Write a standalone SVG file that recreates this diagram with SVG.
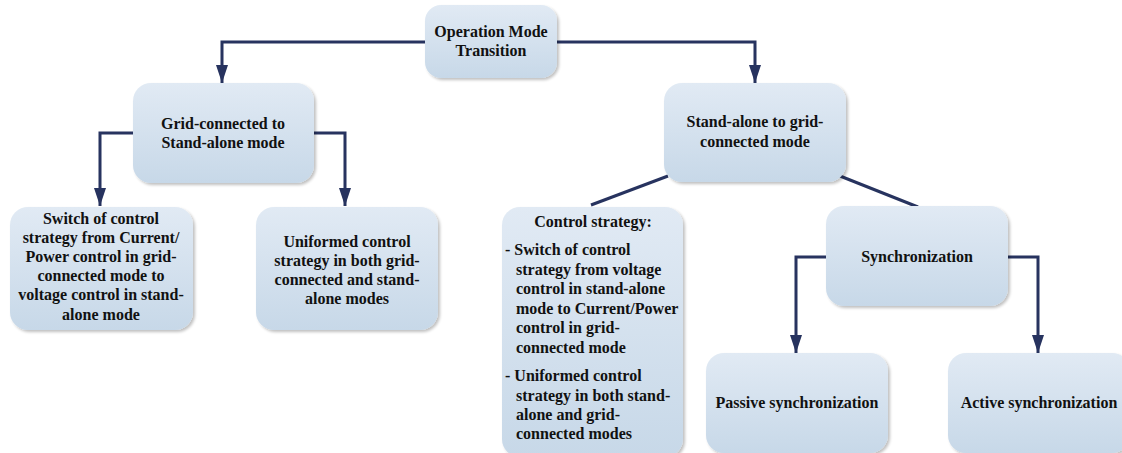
<svg xmlns="http://www.w3.org/2000/svg" width="1122" height="453" viewBox="0 0 1122 453">
  <defs>
    <linearGradient id="boxFill" x1="0" y1="0" x2="0" y2="1">
      <stop offset="0" stop-color="#e1eaf4"/>
      <stop offset="1" stop-color="#c7d8e8"/>
    </linearGradient>
    <filter id="shadow" x="-10%" y="-10%" width="125%" height="130%">
      <feGaussianBlur in="SourceAlpha" stdDeviation="1.5"/>
      <feOffset dx="2" dy="2" result="b"/>
      <feComponentTransfer><feFuncA type="linear" slope="0.25"/></feComponentTransfer>
      <feMerge><feMergeNode/><feMergeNode in="SourceGraphic"/></feMerge>
    </filter>
    <marker id="arrowDown" viewBox="0 0 12 18" refX="6" refY="18" markerWidth="12" markerHeight="18" markerUnits="userSpaceOnUse" orient="0">
      <path d="M0,0 L12,0 L6,18 Z" fill="#27335f"/>
    </marker>
  </defs>
  <style>
    .box { fill: url(#boxFill); filter: url(#shadow); }
    .t { font-family: "Liberation Serif", "Times New Roman", serif; font-weight: bold; font-size: 16px; fill: #111; }
    .c { text-anchor: middle; }
    .wire { fill: none; stroke: #27335f; stroke-width: 3; }
    .arr { marker-end: url(#arrowDown); }
  </style>

  <!-- connectors -->
  <g id="connectors">
    <path class="wire arr" d="M425,42 H222 V83"/>
    <path class="wire arr" d="M557,42 H755 V83"/>
    <path class="wire arr" d="M133,133 H100 V206"/>
    <path class="wire arr" d="M314,133 H345 V206"/>
    <path class="wire" d="M668,176 L591,205"/>
    <path class="wire" d="M840,176 L918,207"/>
    <path class="wire arr" d="M826,257 H796 V353"/>
    <path class="wire arr" d="M1008,257 H1038 V353"/>
  </g>

  <g id="node-operation">
    <rect class="box" x="425" y="5" width="132" height="73" rx="16"/>
    <text class="t c" x="491" y="37">Operation Mode</text>
    <text class="t c" x="491" y="56">Transition</text>
  </g>

  <g id="node-grid-to-standalone">
    <rect class="box" x="133" y="83" width="181" height="100" rx="18"/>
    <text class="t c" x="223" y="129">Grid-connected to</text>
    <text class="t c" x="223" y="148">Stand-alone mode</text>
  </g>

  <g id="node-standalone-to-grid">
    <rect class="box" x="664" y="83" width="182" height="99" rx="18"/>
    <text class="t c" x="755" y="127">Stand-alone to grid-</text>
    <text class="t c" x="755" y="147">connected mode</text>
  </g>

  <g id="node-switch">
    <rect class="box" x="10" y="207" width="183" height="123" rx="18"/>
    <text class="t c" x="101" y="224">Switch of control</text>
    <text class="t c" x="101" y="243">strategy from Current/</text>
    <text class="t c" x="101" y="262">Power control in grid-</text>
    <text class="t c" x="101" y="281">connected mode to</text>
    <text class="t c" x="101" y="300">voltage control in stand-</text>
    <text class="t c" x="101" y="320">alone mode</text>
  </g>

  <g id="node-uniformed">
    <rect class="box" x="256" y="207" width="182" height="123" rx="18"/>
    <text class="t c" x="347" y="247">Uniformed control</text>
    <text class="t c" x="347" y="266">strategy in both grid-</text>
    <text class="t c" x="347" y="285">connected and stand-</text>
    <text class="t c" x="347" y="304">alone modes</text>
  </g>

  <g id="node-control-strategy">
    <rect class="box" x="502" y="207" width="181" height="250" rx="18"/>
    <text class="t c" x="593" y="227">Control strategy:</text>
    <text class="t" x="505" y="255">- Switch of control</text>
    <text class="t" x="516" y="275">strategy from voltage</text>
    <text class="t" x="516" y="294">control in stand-alone</text>
    <text class="t" x="516" y="314">mode to Current/Power</text>
    <text class="t" x="516" y="333">control in grid-</text>
    <text class="t" x="516" y="353">connected mode</text>
    <text class="t" x="505" y="381">- Uniformed control</text>
    <text class="t" x="516" y="401">strategy in both stand-</text>
    <text class="t" x="516" y="420">alone and grid-</text>
    <text class="t" x="516" y="439">connected modes</text>
  </g>

  <g id="node-synchronization">
    <rect class="box" x="826" y="206" width="182" height="100" rx="18"/>
    <text class="t c" x="917" y="262">Synchronization</text>
  </g>

  <g id="node-passive">
    <rect class="box" x="706" y="353" width="182" height="100" rx="18"/>
    <text class="t c" x="797" y="408">Passive synchronization</text>
  </g>

  <g id="node-active">
    <rect class="box" x="948" y="353" width="182" height="100" rx="18"/>
    <text class="t c" x="1039" y="408">Active synchronization</text>
  </g>
</svg>
